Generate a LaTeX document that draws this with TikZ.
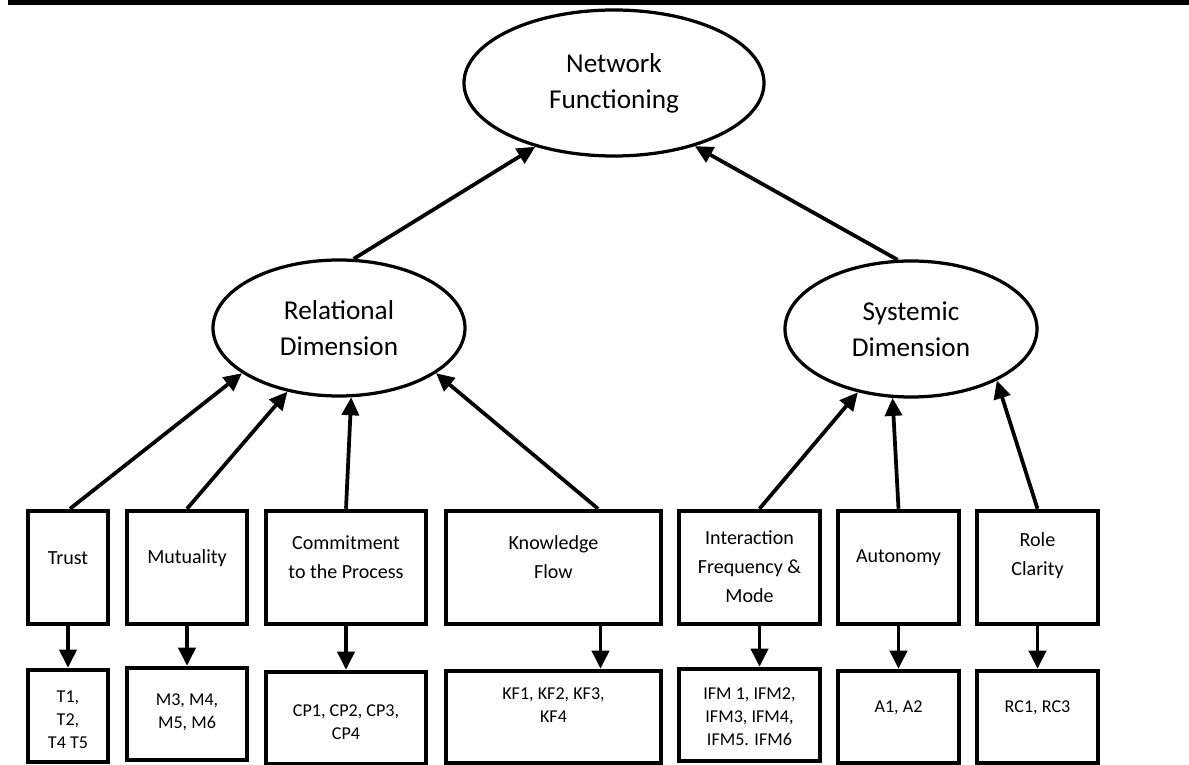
\documentclass[tikz,border=0pt]{standalone}
\usepackage{fontspec}
\setmainfont{Carlito}
\usetikzlibrary{arrows.meta, shapes.geometric}

\begin{document}
\begin{tikzpicture}[
    x=0.2mm, y=-0.2mm,
    dim/.style={draw, ellipse, line width=0.65mm, inner sep=0pt, minimum width=50.4mm, minimum height=27.2mm, align=center, font=\fontsize{15.5}{20.5}\selectfont},
    factor/.style={draw, rectangle, line width=0.9mm, minimum height=22.6mm},
    items/.style={draw, rectangle, line width=0.9mm, minimum height=18.4mm},
    ftext/.style={align=center, font=\fontsize{11.4}{16.5}\selectfont},
    itext/.style={align=center, font=\fontsize{10.3}{13}\selectfont},
    arr/.style={line width=0.75mm, -{Triangle[length=3.6mm,width=3.4mm]}}
]
\useasboundingbox (0,0) rectangle (1189,765);
\fill (8,0) rectangle (1189,5);

% constructs
\node[dim, minimum width=60mm, minimum height=29.2mm] (net) at (614,83) {Network\\Functioning};
\node[dim] (rel) at (339,328) {Relational\\Dimension};
\node[dim] (sys) at (911,329) {Systemic\\Dimension};

% factors
\node[factor, minimum width=16mm] (trust) at (68,567.5) {};
\node[factor, minimum width=24mm] (mutual) at (187,567.5) {};
\node[factor, minimum width=32mm] (commit) at (346,567.5) {};
\node[factor, minimum width=43mm] (know) at (553.5,567.5) {};
\node[factor, minimum width=28.2mm] (inter) at (749.5,567.5) {};
\node[factor, minimum width=24.2mm] (auto) at (898.5,567.5) {};
\node[factor, minimum width=24.2mm] (role) at (1037.5,567.5) {};

\node[ftext] (trusttxt) at (68,558) {Trust};
\node[ftext] (mutualtxt) at (187,558) {Mutuality};
\node[ftext] (committxt) at (346,557) {Commitment\\to the Process};
\node[ftext] (knowtxt) at (553.5,557) {Knowledge\\Flow};
\node[ftext] (intertxt) at (749.5,567) {Interaction\\Frequency \&\\Mode};
\node[ftext] (autotxt) at (898.5,558) {Autonomy};
\node[ftext] (roletxt) at (1037.5,556) {Role\\Clarity};

% items
\node[items, minimum width=16mm] (trustit) at (68,716) {};
\node[items, minimum width=24mm] (mutualit) at (187,714) {};
\node[items, minimum width=32mm] (commitit) at (346,718) {};
\node[items, minimum width=43mm] (knowit) at (553.5,717) {};
\node[items, minimum width=28.2mm] (interit) at (749.5,715) {};
\node[items, minimum width=24.2mm] (autoit) at (898.5,717) {};
\node[items, minimum width=24.2mm] (roleit) at (1037.5,717) {};

\node[itext] (trustlist) at (68,720) {T1,\\T2,\\T4 T5};
\node[itext] (mutuallist) at (187,712) {M3, M4,\\M5, M6};
\node[itext] (commitlist) at (346,722) {CP1, CP2, CP3,\\CP4};
\node[itext] (knowlist) at (553.5,705) {KF1, KF2, KF3,\\KF4};
\node[itext] (interlist) at (749.5,717) {IFM 1, IFM2,\\IFM3, IFM4,\\IFM5. IFM6};
\node[itext] (autolist) at (898.5,708) {A1, A2};
\node[itext] (rolelist) at (1037.5,708) {RC1, RC3};

% arrows up
\draw[arr] (rel.78) -- (net.219);
\draw[arr] (sys.101) -- (net.322);
\draw[arr] ([xshift=0.4mm]trust.north) -- (rel.205);
\draw[arr] (mutual.north) -- (rel.231);
\draw[arr] (commit.north) -- (rel.280);
\draw[arr] ([xshift=8.9mm]know.north) -- (rel.335);
\draw[arr] ([xshift=2mm]inter.north) -- (sys.230);
\draw[arr] (auto.north) -- (sys.255);
\draw[arr] (role.north) -- (sys.329);

% arrows down
\draw[arr] (trust) -- (trustit);
\draw[arr] (mutual) -- (mutualit);
\draw[arr] (commit) -- (commitit);
\draw[arr] ([xshift=9.4mm]know.south) -- ([xshift=9.4mm]knowit.north);
\draw[arr] ([xshift=2mm]inter.south) -- ([xshift=2mm]interit.north);
\draw[arr] (auto) -- (autoit);
\draw[arr] (role) -- (roleit);
\end{tikzpicture}
\end{document}
